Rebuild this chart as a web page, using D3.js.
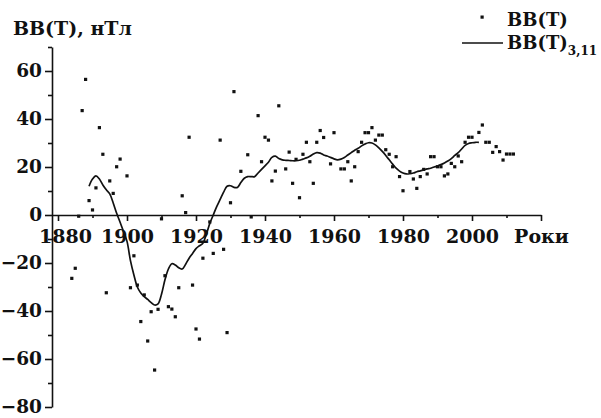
<!DOCTYPE html>
<html>
<head>
<meta charset="utf-8">
<script src="https://cdn.jsdelivr.net/npm/d3@7"></script>
<style>
  body { margin: 0; background: #fff; }
  text { font-family: "DejaVu Serif", serif; font-weight: bold; fill: #111; }
</style>
</head>
<body>
<svg id="chart" width="601" height="418"></svg>
<script>
// Annual values BB(T), nT
const pointYears = [
  1884, 1885, 1886, 1887, 1888, 1889, 1890, 1891, 1892, 1893, 1894, 1895, 1896, 1897, 1898, 1900,
  1901, 1902, 1903, 1904, 1905, 1906, 1907, 1908, 1909, 1910, 1911, 1912, 1913, 1914, 1915, 1916,
  1917, 1918, 1919, 1920, 1921, 1922, 1924, 1925, 1927, 1928, 1929, 1930, 1931, 1933, 1935, 1936,
  1938, 1939, 1940, 1941, 1942, 1943, 1944, 1946, 1947, 1948, 1949, 1950, 1951, 1952, 1953, 1954,
  1955, 1956, 1957, 1959, 1960, 1962, 1963, 1964, 1965, 1966, 1967, 1968, 1969, 1970, 1971, 1972,
  1973, 1974, 1975, 1976, 1977, 1978, 1979, 1980, 1982, 1983, 1984, 1985, 1986, 1987, 1988, 1989,
  1990, 1991, 1992, 1993, 1994, 1995, 1996, 1997, 1998, 1999, 2000, 2002, 2003, 2004, 2005, 2006,
  2007, 2008, 2009, 2010, 2011, 2012
];
const pointValues = [
  -26.4, -22.2, -0.5, 43.5, 56.5, 6.0, 2.1, 11.3, 36.4, 25.3, -32.4, 14.2, 9.0, 20.1, 23.3, 16.3,
  -30.3, -17.0, -29.2, -44.4, -33.3, -52.5, -40.3, -64.6, -39.3, -1.6, -25.3, -38.2, -39.2, -42.4, -30.3, 8.0,
  1.0, 32.4, -29.2, -47.5, -51.7, -18.0, -2.9, -16.0, 31.2, -14.3, -49.0, 5.1, 51.4, 18.2, 25.1, -0.8,
  41.4, 22.2, 32.4, 31.2, 14.2, 18.3, 45.5, 19.2, 26.2, 13.2, 23.2, 7.2, 25.3, 30.3, 22.2, 13.2,
  30.3, 35.2, 32.3, 21.3, 34.3, 19.2, 19.2, 22.2, 14.2, 20.1, 26.4, 30.3, 34.3, 34.3, 36.4, 31.2,
  33.3, 33.3, 27.2, 25.3, 20.1, 24.3, 16.0, 10.1, 18.1, 15.0, 11.1, 16.0, 19.0, 17.1, 24.3, 24.3,
  20.1, 20.1, 16.3, 17.1, 21.5, 20.1, 24.6, 22.2, 30.3, 32.4, 32.4, 34.4, 37.5, 30.3, 30.3, 26.1,
  28.5, 26.4, 22.9, 25.4, 25.4, 25.4
];

// Smoothed series BB(T)3,11
const smoothYears = [
  1889, 1890, 1891, 1892, 1893, 1894, 1895, 1896, 1897, 1898, 1899, 1900, 1901, 1902, 1903, 1904,
  1905, 1906, 1907, 1908, 1909, 1910, 1911, 1912, 1913, 1914, 1915, 1916, 1917, 1918, 1919, 1920,
  1921, 1922, 1923, 1924, 1925, 1926, 1927, 1928, 1929, 1930, 1931, 1932, 1933, 1934, 1935, 1936,
  1937, 1938, 1939, 1940, 1941, 1942, 1943, 1944, 1945, 1946, 1947, 1948, 1949, 1950, 1951, 1952,
  1953, 1954, 1955, 1956, 1957, 1958, 1959, 1960, 1961, 1962, 1963, 1964, 1965, 1966, 1967, 1968,
  1969, 1970, 1971, 1972, 1973, 1974, 1975, 1976, 1977, 1978, 1979, 1980, 1981, 1982, 1983, 1984,
  1985, 1986, 1987, 1988, 1989, 1990, 1991, 1992, 1993, 1994, 1995, 1996, 1997, 1998, 1999, 2000,
  2001, 2002
];
const smoothValues = [
  12.0, 15.0, 16.3, 15.0, 12.5, 10.5, 8.8, 5.0, 0.7, -3.0, -7.0, -11.0, -19.0, -25.0, -30.0, -32.5,
  -34.0, -35.2, -36.5, -37.5, -37.0, -33.0, -27.0, -22.5, -20.3, -20.8, -22.0, -22.5, -20.5, -18.0, -16.0, -14.0,
  -12.8, -11.8, -8.0, -3.5, 0.0, 3.5, 6.5, 9.5, 12.0, 12.2, 11.5, 11.5, 13.5, 15.3, 16.0, 16.0,
  16.0, 17.5, 19.0, 20.5, 22.0, 24.0, 24.5, 23.5, 23.0, 22.8, 22.7, 22.6, 22.6, 22.8, 23.3, 23.8,
  24.5, 25.4, 26.0, 25.8, 25.0, 24.6, 24.0, 23.4, 23.0, 23.3, 24.0, 25.0, 26.0, 27.0, 27.8, 28.8,
  29.6, 30.1, 30.0, 29.2, 28.0, 26.5, 24.8, 23.0, 21.2, 19.5, 18.3, 17.5, 17.1, 17.2, 17.5, 18.0,
  18.4, 18.8, 19.2, 19.5, 20.0, 20.4, 21.0, 21.7, 22.5, 23.5, 24.8, 26.0, 27.5, 29.0, 29.8, 30.1,
  30.3, 30.3
];

const xMajorTicks = [1880, 1900, 1920, 1940, 1960, 1980, 2000, 2020];
const xMajorLabels = ["1880", "1900", "1920", "1940", "1960", "1980", "2000", "Роки"];
const xMinorTicks = [1890, 1910, 1930, 1950, 1970, 1990, 2010];
const yMajorTicks = [-80, -60, -40, -20, 0, 20, 40, 60];
const yMinorTicks = [-70, -50, -30, -10, 10, 30, 50, 70];

const svg = d3.select("#chart");
const ink = "#111";

const x = d3.scaleLinear().domain([1878.26, 2020]).range([52, 541]);
const y = d3.scaleLinear().domain([-80, 70]).range([407, 47]);

// Horizontal axis through zero
const xAxisG = svg.append("g").attr("transform", `translate(0,${y(0)})`);
xAxisG.call(
  d3.axisBottom(x)
    .tickValues(xMajorTicks)
    .tickSize(6)
    .tickSizeOuter(0)
    .tickPadding(9)
    .tickFormat((d, i) => xMajorLabels[i])
);
xAxisG.append("g").call(
  d3.axisBottom(x).tickValues(xMinorTicks).tickSize(3).tickSizeOuter(0).tickFormat("")
).select(".domain").remove();
xAxisG.selectAll("text").attr("font-size", 19).attr("fill", ink)
  .attr("dx", (d, i) => (i === 0 ? 7 : 0));

// Vertical axis
const yAxisG = svg.append("g").attr("transform", `translate(${x.range()[0]},0)`);
yAxisG.call(
  d3.axisLeft(y)
    .tickValues(yMajorTicks)
    .tickSize(7)
    .tickSizeOuter(0)
    .tickPadding(3)
    .tickFormat(d3.format("d"))
);
yAxisG.append("g").call(
  d3.axisLeft(y).tickValues(yMinorTicks).tickSize(4).tickSizeOuter(0).tickFormat("")
).select(".domain").remove();
yAxisG.selectAll("text").attr("font-size", 18.5).attr("fill", ink);

svg.selectAll(".domain, .tick line").attr("stroke", ink).attr("stroke-width", 1.6);
svg.selectAll(".tick text").style("font-family", '"DejaVu Serif", serif').style("font-weight", "bold");

// Annual points
svg.append("g").selectAll("rect")
  .data(pointYears.map((yr, i) => [yr, pointValues[i]]))
  .join("rect")
  .attr("x", d => x(d[0]) - 1.6)
  .attr("y", d => y(d[1]) - 1.6)
  .attr("width", 3.2)
  .attr("height", 3.2)
  .attr("fill", ink);

// Smoothed curve
const line = d3.line()
  .x(d => x(d[0]))
  .y(d => y(d[1]))
  .curve(d3.curveCatmullRom.alpha(0.5));
svg.append("path")
  .datum(smoothYears.map((yr, i) => [yr, smoothValues[i]]))
  .attr("d", line)
  .attr("fill", "none")
  .attr("stroke", ink)
  .attr("stroke-width", 1.7);

// Axis title
svg.append("text").attr("x", 13).attr("y", 35).attr("font-size", 19).text("BB(T), нТл");

// Legend
const lg = svg.append("g");
lg.append("rect").attr("x", 480.5).attr("y", 15.5).attr("width", 3.2).attr("height", 3.2).attr("fill", ink);
lg.append("text").attr("x", 507).attr("y", 26).attr("font-size", 18).text("BB(T)");
lg.append("line").attr("x1", 462).attr("x2", 503).attr("y1", 43).attr("y2", 43)
  .attr("stroke", ink).attr("stroke-width", 1.7);
const t2 = lg.append("text").attr("x", 507).attr("y", 49).attr("font-size", 18);
t2.append("tspan").text("BB(T)");
t2.append("tspan").attr("font-size", 12).attr("dy", 6).text("3,11");
</script>
</body>
</html>
